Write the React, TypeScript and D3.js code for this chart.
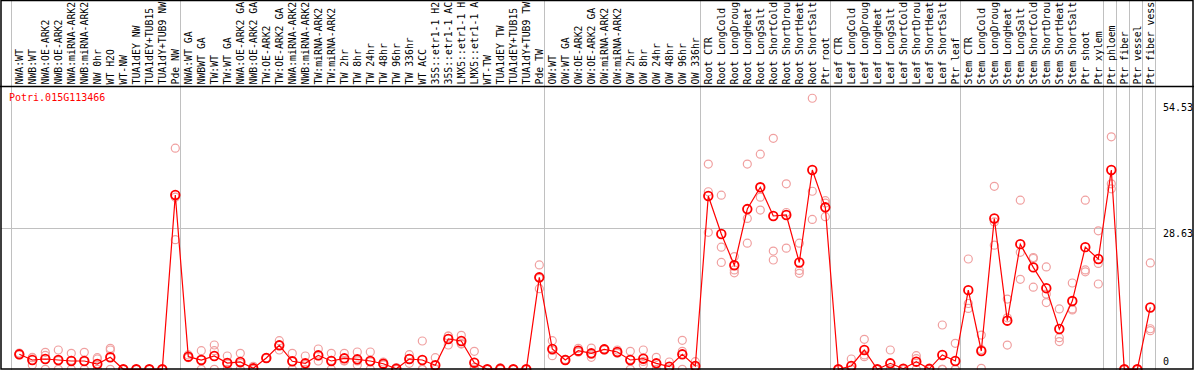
import React, { useEffect, useRef } from 'react';
import * as d3 from 'd3';

const geneId = 'Potri.015G113466';

// sample labels, one per column
const labels = [
  'NWA:WT', 'NWB:WT', 'NWA:OE-ARK2', 'NWB:OE-ARK2', 'NWA:miRNA-ARK2', 'NWB:miRNA-ARK2', 'NW 0hr', 'WT H2O', 'WT-NW',
  'TUA1dEY NW', 'TUA1dEY+TUB15 NW', 'TUA1dY+TUB9 NW', 'Pde NW',
  'NWA:WT GA', 'NWBWT GA', 'TW:WT', 'TW:WT GA', 'NWA:OE-ARK2 GA', 'NWB:OE-ARK2 GA', 'TW:OE-ARK2', 'TW:OE-ARK2 GA',
  'NWA:miRNA-ARK2 GA', 'NWB:miRNA-ARK2 GA', 'TW:miRNA-ARK2', 'TW:miRNA-ARK2 GA', 'TW 2hr', 'TW 8hr', 'TW 24hr', 'TW 48hr',
  'TW 96hr', 'TW 336hr', 'WT ACC', '35S::etr1-1 H2O', '35S::etr1-1 ACC', 'LMX5::etr1-1 H2O', 'LMX5::etr1-1 ACC', 'WT-TW',
  'TUA1dEY TW', 'TUA1dEY+TUB15 TW', 'TUA1dY+TUB9 TW', 'Pde TW',
  'OW:WT', 'OW:WT GA', 'OW:OE-ARK2', 'OW:OE-ARK2 GA', 'OW:miRNA-ARK2', 'OW:miRNA-ARK2 GA', 'OW 2hr', 'OW 8hr', 'OW 24hr',
  'OW 48hr', 'OW 96hr', 'OW 336hr',
  'Root CTR', 'Root LongCold', 'Root LongDrought', 'Root LongHeat', 'Root LongSalt', 'Root ShortCold', 'Root ShortDrought',
  'Root ShortHeat', 'Root ShortSalt', 'Ptr root',
  'Leaf CTR', 'Leaf LongCold', 'Leaf LongDrought', 'Leaf LongHeat', 'Leaf LongSalt', 'Leaf ShortCold', 'Leaf ShortDrought',
  'Leaf ShortHeat', 'Leaf ShortSalt', 'Ptr leaf',
  'Stem CTR', 'Stem LongCold', 'Stem LongDrought', 'Stem LongHeat', 'Stem LongSalt', 'Stem ShortCold', 'Stem ShortDrought',
  'Stem ShortHeat', 'Stem ShortSalt', 'Ptr shoot', 'Ptr xylem', 'Ptr phloem', 'Ptr fiber', 'Ptr vessel', 'Ptr fiber vessel',
];

// mean expression per column
const means = [
  3.03, 1.88, 2.08, 1.88, 1.68, 1.68, 1.07, 2.43, 0, 0, 0, 0, 35.25,
  2.55, 1.88, 2.69, 1.27, 1.48, 0.2, 2.28, 4.85, 1.62, 1.21, 2.83, 1.68, 2.22, 2.02, 1.68, 1.13, 0.12, 2.08, 1.88, 0.81,
  6.13, 5.72, 1.33, 0, 0.1, 0, 0, 18.6,
  4.1, 1.88, 3.76, 3.23, 4.04, 3.5, 1.88, 2.14, 1.21, 0.53, 3.03, 0.67,
  35.04, 27.36, 21.03, 32.4, 36.8, 31.0, 31.2, 21.6, 40.3, 32.75,
  0, 0.67, 3.9, 0, 1.21, 0.12, 1.54, 0.1, 2.9, 1.68,
  16.0, 3.7, 30.5, 9.83, 25.3, 20.6, 16.4, 8.15, 13.8, 24.7, 22.3, 40.3, 0, 0, 12.5,
];

// replicates
const rep1 = [
  3.3, 2.35, 3.44, 3.9, 3.23, 3.44, 2.35, 4.25, 0, 0, 0, 0, 44.7,
  2.9, 3.76, 4.91, 2.69, 3.23, 0.6, 2.3, 5.78, 3.23, 2.69, 4.1, 3.23, 3.23, 3.5, 3.5, 1.48, 0.36, 2.95, 5.72, 2.35,
  6.73, 6.87, 3.64, 0, 0.3, 0, 0, 21.1,
  5.78, 2.0, 4.25, 4.3, 4.1, 3.9, 3.64, 3.9, 2.43, 1.48, 5.86, 1.54,
  41.5, 35.2, 22.8, 41.5, 43.5, 46.7, 37.5, 25.5, 54.8, 34.1,
  0, 2.08, 6.07, 0, 3.9, 0, 2.75, 0, 8.96, 5.26,
  22.3, 6.93, 37.0, 14.2, 34.2, 22.6, 20.7, 12.2, 17.45, 34.2, 28.0, 47.0, 0, 0, 21.5,
];
const rep2 = [
  3.1, 2.4, 2.8, 1.74, 1.81, 1.6, 2.08, 3.9, 0, 0, 0, 0, 34.8,
  2.4, 1.9, 3.76, 1.1, 1.2, 0, 2.3, 4.9, 1.6, 0.95, 2.7, 1.8, 1.75, 1.7, 1.5, 1.0, 0, 2.1, 0, 0.1,
  6.7, 5.2, 0.4, 0, 0, 0, 0, 18.4,
  3.8, 1.85, 3.5, 3.0, 4.1, 3.4, 2.0, 1.6, 1.2, 0.1, 3.64, 0.5,
  35.9, 24.7, 20.1, 30.5, 34.8, 23.9, 31.7, 20.0, 36.0, 33.6,
  0, 0, 2.9, 0, 0, 0, 2.14, 0, 0, 0,
  13.3, 4.0, 29.8, 10.4, 23.65, 22.4, 15.2, 6.4, 12.2, 20.1, 21.4, 37.5, 0, 0, 8.2,
];
const rep3 = [
  2.9, 0.87, 0, 0, 0, 0, 0, 0, 0, 0, 0, 0, 26.2,
  2.35, 0, 0, 0, 0, 0, 2.2, 3.9, 0, 0, 1.68, 0, 1.68, 0.87, 0, 0.87, 0, 1.21, 0, 0,
  4.91, 5.1, 0, 0, 0, 0, 0, 16.3,
  2.75, 1.8, 3.5, 2.43, 3.9, 3.23, 0, 0.93, 0, 0, 0, 0,
  27.7, 21.6, 19.5, 25.5, 32.2, 22.1, 24.5, 19.4, 30.3, 30.85,
  0, 0, 2.55, 0, 0, 0, 0, 0, 0, 0,
  12.3, 0.2, 25.1, 4.9, 18.2, 16.6, 13.5, 5.6, 12.0, 19.7, 17.25, 36.5, 0, 0, 7.8,
];

// column index where each gray separator sits
const groupStarts = [0, 13, 41, 53, 63, 73, 84, 85, 86, 87, 88];
const yTicks = [0, 28.63, 54.53];

const W = 1194, H = 370;
const FONT = '"DejaVu Sans Mono", "Liberation Mono", monospace';
const MAX_CHARS = 14; // header only has room for this many characters

export default function App() {
  const ref = useRef<SVGSVGElement>(null);

  useEffect(() => {
    const svg = d3.select(ref.current);
    svg.selectAll('*').remove();

    const idx = labels.map((_, i) => String(i));
    const x = d3.scaleBand().domain(idx).range([11, 11 + 13 * labels.length]);
    const cx = (i: number) => (x(String(i)) as number) + 8.3;
    const sepX = (i: number) => (i >= labels.length ? x.range()[1] : (x(String(i)) as number));

    const y = d3.scaleLinear().domain([0, 28.63]).range([369.3, 227.7]);

    svg.append('rect').attr('width', W).attr('height', H).attr('fill', '#fff');

    // separators
    svg.selectAll('line.sep')
      .data(groupStarts)
      .enter().append('line')
      .attr('x1', d => sepX(d) + 0.5).attr('x2', d => sepX(d) + 0.5)
      .attr('y1', 0).attr('y2', H)
      .attr('stroke', '#c0c0c0').attr('stroke-width', 1);

    // middle gridline
    svg.append('line')
      .attr('x1', 1).attr('x2', x.range()[1])
      .attr('y1', Math.round(y(yTicks[1])) + 0.5).attr('y2', Math.round(y(yTicks[1])) + 0.5)
      .attr('stroke', '#c0c0c0').attr('stroke-width', 1);

    // column labels (cut to what fits above the header line)
    svg.selectAll('text.lab')
      .data(labels)
      .enter().append('text')
      .attr('transform', (d, i) => `translate(${cx(i)},84.5) rotate(-90)`)
      .attr('dy', '0.35em')
      .attr('font-family', FONT)
      .attr('font-size', 9.8)
      .attr('fill', '#000')
      .text(d => d.slice(0, MAX_CHARS).trimEnd());

    svg.append('text')
      .attr('x', 9).attr('y', 101)
      .attr('font-family', FONT).attr('font-size', 10)
      .attr('fill', '#ff0000')
      .text(geneId);

    // replicate circles
    [rep1, rep2, rep3].forEach(rep => {
      svg.append('g').selectAll('circle')
        .data(rep)
        .enter().append('circle')
        .attr('cx', (d, i) => cx(i))
        .attr('cy', d => y(d))
        .attr('r', 4)
        .attr('fill', 'none')
        .attr('stroke', '#f0a0a0')
        .attr('stroke-width', 1.2);
    });

    // mean line
    const line = d3.line<number>()
      .x((d, i) => cx(i))
      .y(d => y(d));
    svg.append('path')
      .datum(means)
      .attr('fill', 'none')
      .attr('stroke', '#ff0000')
      .attr('stroke-width', 1.2)
      .attr('d', line);

    svg.append('g').selectAll('circle')
      .data(means)
      .enter().append('circle')
      .attr('cx', (d, i) => cx(i))
      .attr('cy', d => y(d))
      .attr('r', 4.3)
      .attr('fill', 'none')
      .attr('stroke', '#ff0000')
      .attr('stroke-width', 1.8);

    // value labels on the right
    svg.selectAll('text.tick')
      .data(yTicks)
      .enter().append('text')
      .attr('x', 1163)
      .attr('y', d => (d === 0 ? y(d) - 4 : y(d) + (d === yTicks[2] ? 11 : 9)))
      .attr('font-family', FONT).attr('font-size', 10)
      .attr('fill', '#000')
      .text(d => String(d));

    // frame
    svg.append('line').attr('x1', 0).attr('x2', W).attr('y1', 86.5).attr('y2', 86.5)
      .attr('stroke', '#000').attr('stroke-width', 1.5);
    svg.append('rect')
      .attr('x', 1).attr('y', 0.5).attr('width', W - 2).attr('height', 368.5)
      .attr('fill', 'none').attr('stroke', '#000').attr('stroke-width', 1.5);
  }, []);

  return (
    <div style={{ position: 'absolute', left: 0, top: 0 }}>
      <svg ref={ref} width={W} height={H} style={{ display: 'block' }}></svg>
    </div>
  );
}
